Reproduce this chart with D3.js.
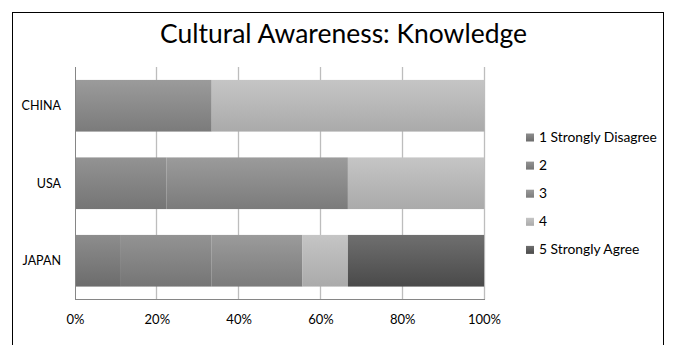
<!DOCTYPE html>
<html><head><meta charset="utf-8">
<script src="https://cdn.jsdelivr.net/npm/d3@7"></script>
<style>html,body{margin:0;padding:0;background:#fff;}svg{display:block;}</style>
</head><body>
<svg id="chart" width="673" height="345"></svg>
<script>
const categories = ["CHINA", "USA", "JAPAN"];
const seriesNames = ["1 Strongly Disagree", "2", "3", "4", "5 Strongly Agree"];
const s1 = [0, 0, 11.1];
const s2 = [0, 22.2, 22.2];
const s3 = [33.3, 44.4, 22.2];
const s4 = [66.7, 33.3, 11.1];
const s5 = [0, 0, 33.3];
const tickLabels = ["0%", "20%", "40%", "60%", "80%", "100%"];
const title = "Cultural Awareness: Knowledge";

const seriesVals = [s1, s2, s3, s4, s5];
const gradTop = ["#8d8d8d", "#939393", "#9b9b9b", "#c5c5c5", "#6f6f6f"];
const gradBot = ["#6c6c6c", "#757575", "#7b7b7b", "#aaaaaa", "#4a4a4a"];
const FONT = "Lato, 'Open Sans', sans-serif";

const svg = d3.select("#chart");
const defs = svg.append("defs");
seriesNames.forEach((n, i) => {
  const g = defs.append("linearGradient").attr("id", "g" + i)
    .attr("x1", 0).attr("y1", 0).attr("x2", 0).attr("y2", 1);
  g.append("stop").attr("offset", "0%").attr("stop-color", gradTop[i]);
  g.append("stop").attr("offset", "100%").attr("stop-color", gradBot[i]);
});

svg.append("rect").attr("width", 673).attr("height", 345).attr("fill", "#fff");
svg.append("rect").attr("x", 12.5).attr("y", 12.5).attr("width", 651).attr("height", 340)
  .attr("fill", "none").attr("stroke", "#000").attr("stroke-width", 1);

const x = d3.scaleLinear().domain([0, 100]).range([75.5, 484.5]);
const y = d3.scaleBand().domain(categories).range([67, 299.5]).paddingInner(1/3).paddingOuter(1/6);

// gridlines
const ticks = [0, 20, 40, 60, 80, 100];
svg.append("g").selectAll("line").data(ticks.slice(1)).join("line")
  .attr("x1", d => Math.round(x(d)) - 0.5).attr("x2", d => Math.round(x(d)) - 0.5)
  .attr("y1", 67).attr("y2", 299.5)
  .attr("stroke", "#bdbdbd").attr("stroke-width", 1.3);

// stacked bars
const rows = categories.map((c, ci) => {
  const o = { cat: c };
  seriesVals.forEach((s, si) => o["s" + si] = s[ci]);
  return o;
});
const stack = d3.stack().keys(seriesVals.map((s, i) => "s" + i));
const stacked = stack(rows);
stacked.forEach((layer, si) => {
  svg.append("g").selectAll("rect").data(layer).join("rect")
    .attr("x", d => x(d[0]))
    .attr("width", d => Math.max(0, x(d[1]) - x(d[0])))
    .attr("y", d => y(d.data.cat))
    .attr("height", y.bandwidth())
    .attr("fill", "url(#g" + si + ")");
});

// axes lines
svg.append("line").attr("x1", 75.5).attr("x2", 75.5).attr("y1", 67).attr("y2", 300)
  .attr("stroke", "#868686").attr("stroke-width", 1);
svg.append("line").attr("x1", 75).attr("x2", 485).attr("y1", 299.5).attr("y2", 299.5)
  .attr("stroke", "#868686").attr("stroke-width", 1);

// x tick labels
svg.append("g").selectAll("text").data(ticks).join("text")
  .attr("x", d => x(d)).attr("y", 324)
  .attr("text-anchor", "middle").attr("font-family", FONT).attr("font-size", 13)
  .attr("fill", "#000").text((d, i) => tickLabels[i]);

// category labels
svg.append("g").selectAll("text").data(categories).join("text")
  .attr("x", 61).attr("y", d => y(d) + y.bandwidth() / 2 + 4.5)
  .attr("text-anchor", "end").attr("font-family", FONT).attr("font-size", 12.5)
  .attr("fill", "#000").text(d => d);

// title
const t = svg.append("text").attr("x", 343.5).attr("y", 43)
  .attr("text-anchor", "middle").attr("font-family", FONT).attr("font-size", 26)
  .attr("fill", "#000").text(title);
const tw = t.node().getComputedTextLength();
t.attr("font-size", 26 * 367 / tw);

// legend
const lg = svg.append("g");
let legSize = 13;
seriesNames.forEach((n, i) => {
  const cy = 137.5 + i * 28.1;
  lg.append("rect").attr("x", 526).attr("y", cy - 4).attr("width", 8).attr("height", 8)
    .attr("fill", "url(#g" + i + ")");
  lg.append("text").attr("x", 539).attr("y", cy + 4.5)
    .attr("font-family", FONT).attr("font-size", 13).attr("fill", "#000").text(n);
});
const firstLeg = lg.select("text").node();
legSize = 13 * 118 / firstLeg.getComputedTextLength();
lg.selectAll("text").attr("font-size", Math.min(legSize, 14.5));
</script>
</body></html>
